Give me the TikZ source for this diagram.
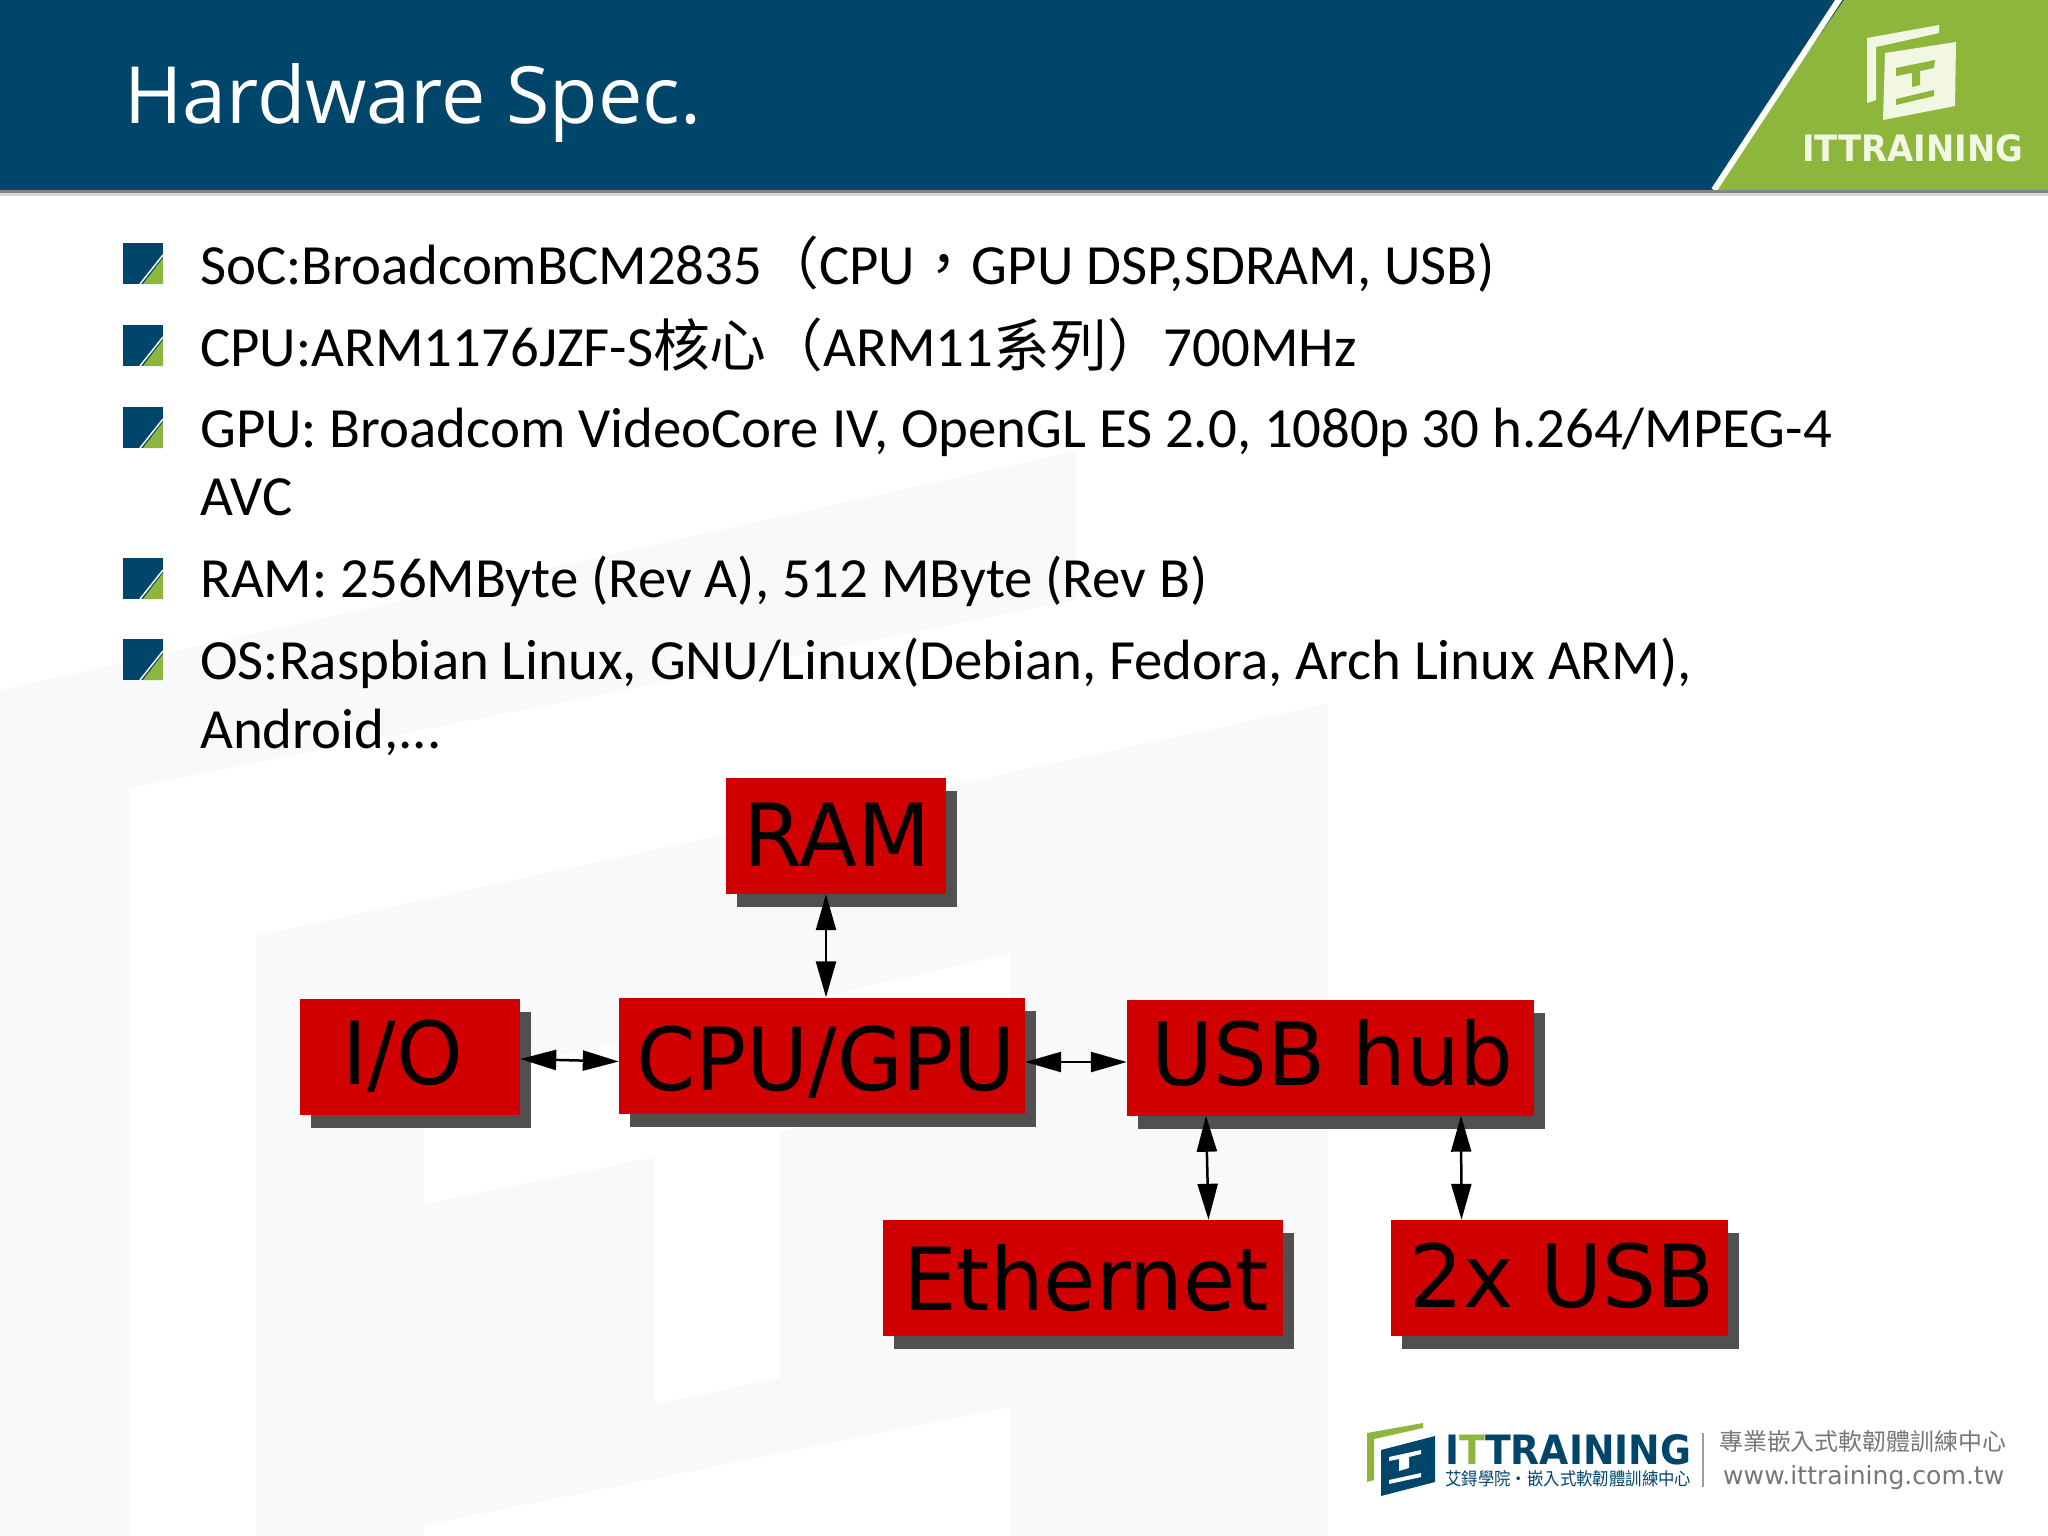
\documentclass[tikz,border=0pt]{standalone}
\usepackage{fontspec}
\usepackage{graphicx}
\setmainfont{Carlito}
\newfontfamily\cjk{Noto Sans CJK TC}
\newfontfamily\titlefont{Open Sans}
\newfontfamily\blockfont{DejaVu Sans}
\usetikzlibrary{arrows.meta, shadows}
\definecolor{headblue}{HTML}{00466B}
\definecolor{headgreen}{HTML}{8FB63C}
\definecolor{paleback}{HTML}{F9F8FB}
\definecolor{blockred}{HTML}{D00000}
\definecolor{blockshadow}{HTML}{505050}
\definecolor{logogray}{HTML}{777777}
\definecolor{logotext}{HTML}{F2F7E4}
\newcommand{\blocktext}[3]{\kern#1pt\raisebox{#2pt}{\scalebox{.975}[1]{#3}}\kern-#1pt}
\tikzset{
  blockbox/.style={fill=blockred, text=black, inner sep=0pt, minimum height=116pt,
    text height=64pt, text depth=0pt, font=\blockfont\fontsize{87}{87}\selectfont,
    general shadow={fill=blockshadow, shadow xshift=11pt, shadow yshift=-13pt}},
  twoway/.style={{Triangle[length=36pt,width=20pt]}-{Triangle[length=36pt,width=20pt]}, line width=2.5pt},
  bodyline/.style={anchor=base west, inner sep=0pt, font=\fontsize{56.8}{68}\selectfont, text=black},
}
\begin{document}
\begin{tikzpicture}[x=1pt,y=-1pt]
\useasboundingbox (0,0) rectangle (2048,1536);
% Draw pale backdrop
\fill[white] (0,0) rectangle (2048,1536);
\fill[paleback] (0,690) -- (1076,451) -- (1076,600) -- (129,788) -- (129,1536) -- (0,1536) -- cycle;
\fill[paleback] (256,936) -- (1328,704) -- (1328,1536) -- (256,1536) -- cycle;
\fill[white] (424,1086) -- (1010,954) -- (1010,1086) -- (780,1132) -- (780,1378) -- (655,1404) -- (655,1157) -- (424,1204) -- cycle;
\fill[white] (424,1525) -- (1010,1407) -- (1010,1536) -- (424,1536) -- cycle;
% Draw header
\fill[headblue] (0,0) rectangle (2048,190);
\fill[headgreen] (1844,0) -- (2048,0) -- (2048,190) -- (1713,190) -- cycle;
\draw[white, line width=6pt] (1842,-5) -- (1714,190);
\fill[logogray!90] (0,190) rectangle (2048,193);
\fill[logogray!30] (0,193) rectangle (2048,196);
\node[anchor=base west, inner sep=0pt, text=white, font=\titlefont\fontsize{79}{79}\selectfont] (title) at (124,124) {Hardware Spec.};
% Draw header logo
\fill[logotext] (1867,38) -- (1939,25) -- (1939,33) -- (1876,47) -- (1876,100) -- (1867,103) -- cycle;
\fill[logotext] (1885,53) -- (1956,42) -- (1955,106) -- (1883,120) -- cycle;
\fill[headgreen] (1896,68) -- (1935,60) -- (1934,68) -- (1920,71) -- (1920,85) -- (1912,87) -- (1912,73) -- (1896,76) -- cycle;
\fill[headgreen] (1896,99) -- (1934,90) -- (1934,96) -- (1896,105) -- cycle;
\node[anchor=south west, inner sep=0pt, text=logotext] (headname) at (1802,162) {\resizebox{221pt}{27pt}{\blockfont\bfseries ITTRAINING}};
% Draw bullets
\foreach \y in {243,325,407,558,639} {
  \fill[headblue] (123,\y) rectangle (163,\y+41);
  \fill[headgreen] (163,\y+15) -- (163,\y+41) -- (143,\y+41) -- cycle;
  \draw[white, line width=1.5pt] (163,\y+12) -- (140,\y+41);
}
% Draw spec lines
\node[bodyline] (soc) at (200,284) {SoC:BroadcomBCM2835{\cjk （}CPU{\cjk ，}GPU DSP,SDRAM, USB)};
\node[bodyline] (cpuline) at (200,366) {CPU:ARM1176JZF-S{\cjk 核心（}ARM11{\cjk 系列）}700MHz};
\node[bodyline] (gpuline) at (200,447) {GPU: Broadcom VideoCore IV, OpenGL ES 2.0, 1080p 30 h.264/MPEG-4};
\node[bodyline] (avcline) at (200,515) {AVC};
\node[bodyline] (ramline) at (200,597) {RAM: 256MByte (Rev A), 512 MByte (Rev B)};
\node[bodyline] (osline) at (200,679) {OS:Raspbian Linux, GNU/Linux(Debian, Fedora, Arch Linux ARM),};
\node[bodyline] (androidline) at (200,748) {Android,...};
% Draw blocks
\node[blockbox, minimum width=220pt] (ram) at (836,836) {\blocktext{1}{2}{RAM}};
\node[blockbox, minimum width=220pt] (io) at (410,1057) {\blocktext{-7}{5}{I/O}};
\node[blockbox, minimum width=406pt] (cpu) at (822,1055.5) {\blocktext{4}{-3}{CPU/GPU}};
\node[blockbox, minimum width=407pt] (usbhub) at (1330.5,1057.5) {\blocktext{2}{4}{USB hub}};
\node[blockbox, minimum width=400pt] (ethernet) at (1083,1278) {\blocktext{3}{0}{Ethernet}};
\node[blockbox, minimum width=337pt] (usbports) at (1559,1278) {\blocktext{3}{3}{2x USB}};
% Draw links
\draw[twoway] ([xshift=-10pt]ram.south) -- ([xshift=4pt]cpu.north);
\draw[twoway] ([yshift=-2pt]io.east) -- ([yshift=-6pt]cpu.west);
\draw[twoway] ([yshift=-6.5pt]cpu.east) -- ([yshift=-4.5pt]usbhub.west);
\draw[twoway] ([xshift=-124.5pt]usbhub.south) -- ([xshift=125.5pt]ethernet.north);
\draw[twoway] ([xshift=130.5pt]usbhub.south) -- ([xshift=-97.5pt]usbports.north);
% Draw footer logo
\fill[headgreen] (1367,1433) -- (1423,1423) -- (1423,1428) -- (1374,1439) -- (1374,1480) -- (1367,1482) -- cycle;
\fill[headblue] (1381,1450) -- (1435,1436) -- (1435,1482) -- (1381,1496) -- cycle;
\fill[white] (1389,1457) -- (1421,1450) -- (1421,1454) -- (1409,1457) -- (1409,1468) -- (1399,1471) -- (1399,1459) -- (1389,1461) -- cycle;
\fill[white] (1389,1480) -- (1421,1473) -- (1421,1477) -- (1389,1484) -- cycle;
\node[anchor=south west, inner sep=0pt, text=headblue] (footname) at (1445,1465) {\resizebox{246pt}{30pt}{\blockfont\bfseries I\textcolor{headgreen}{T}TRAINING}};
\node[anchor=south west, inner sep=0pt, text=headblue] (footcn) at (1445,1487) {\resizebox{246pt}{15pt}{\cjk 艾鍀學院‧嵌入式軟韌體訓練中心}};
\draw[logogray!70, line width=1.5pt] (1703,1433) -- (1703,1487);
\node[anchor=south west, inner sep=0pt, text=logogray] (footright) at (1719,1453) {\resizebox{287pt}{20pt}{\cjk 專業嵌入式軟韌體訓練中心}};
\node[anchor=base west, inner sep=0pt, text=logogray] (footurl) at (1723,1484) {\resizebox{281pt}{!}{\blockfont www.ittraining.com.tw}};
\end{tikzpicture}
\end{document}
